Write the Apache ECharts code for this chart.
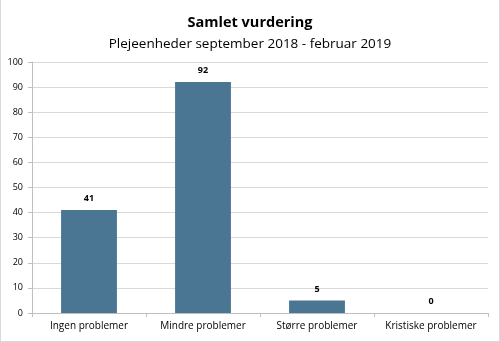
<!DOCTYPE html>
<html><head><meta charset="utf-8">
<script src="https://cdn.jsdelivr.net/npm/echarts@6/dist/echarts.min.js"></script>
<style>html,body{margin:0;padding:0;background:#fff}#c{width:500px;height:342px;box-sizing:border-box;border:1px solid #d9d9d9;border-top:none}</style>
</head><body><div id="c"></div>
<script>
const categories = ["Ingen problemer", "Mindre problemer", "Større problemer", "Kristiske problemer"];
const values = [41, 92, 5, 0];
const yTicks = [0, 10, 20, 30, 40, 50, 60, 70, 80, 90, 100];
const titleText = "Samlet vurdering";
const subtitleText = "Plejeenheder september 2018 - februar 2019";

const chart = echarts.init(document.getElementById('c'));
chart.setOption({
  animation: false,
  title: {
    text: titleText, subtext: subtitleText, left: 'center', top: 10, itemGap: 7,
    textStyle: {fontFamily: 'Open Sans', fontSize: 14.5, fontWeight: 'bold', color: '#000'},
    subtextStyle: {fontFamily: 'Open Sans', fontSize: 13.5, color: '#000'}
  },
  grid: {left: 31, right: 11, top: 62, bottom: 28, containLabel: false},
  xAxis: {
    type: 'category', data: categories,
    axisLine: {lineStyle: {color: '#bfbfbf'}},
    axisTick: {show: true, alignWithLabel: false, length: 4, lineStyle: {color: '#bfbfbf'}},
    axisLabel: {interval: 0, fontFamily: 'Open Sans', fontSize: 10, color: '#000', margin: 8}
  },
  yAxis: {
    type: 'value', min: yTicks[0], max: yTicks[yTicks.length - 1], interval: 10,
    axisLine: {show: true, lineStyle: {color: '#bfbfbf'}},
    axisTick: {show: true, length: 4, lineStyle: {color: '#bfbfbf'}},
    splitLine: {lineStyle: {color: '#d9d9d9'}},
    axisLabel: {fontFamily: 'Open Sans', fontSize: 9, color: '#000', margin: 9}
  },
  series: [{
    type: 'bar', data: values, barWidth: '49%',
    itemStyle: {color: '#4a7694'},
    label: {show: true, position: 'top', fontFamily: 'Open Sans', fontSize: 9, fontWeight: 'bold', color: '#000', distance: 7}
  }]
});
</script></body></html>
